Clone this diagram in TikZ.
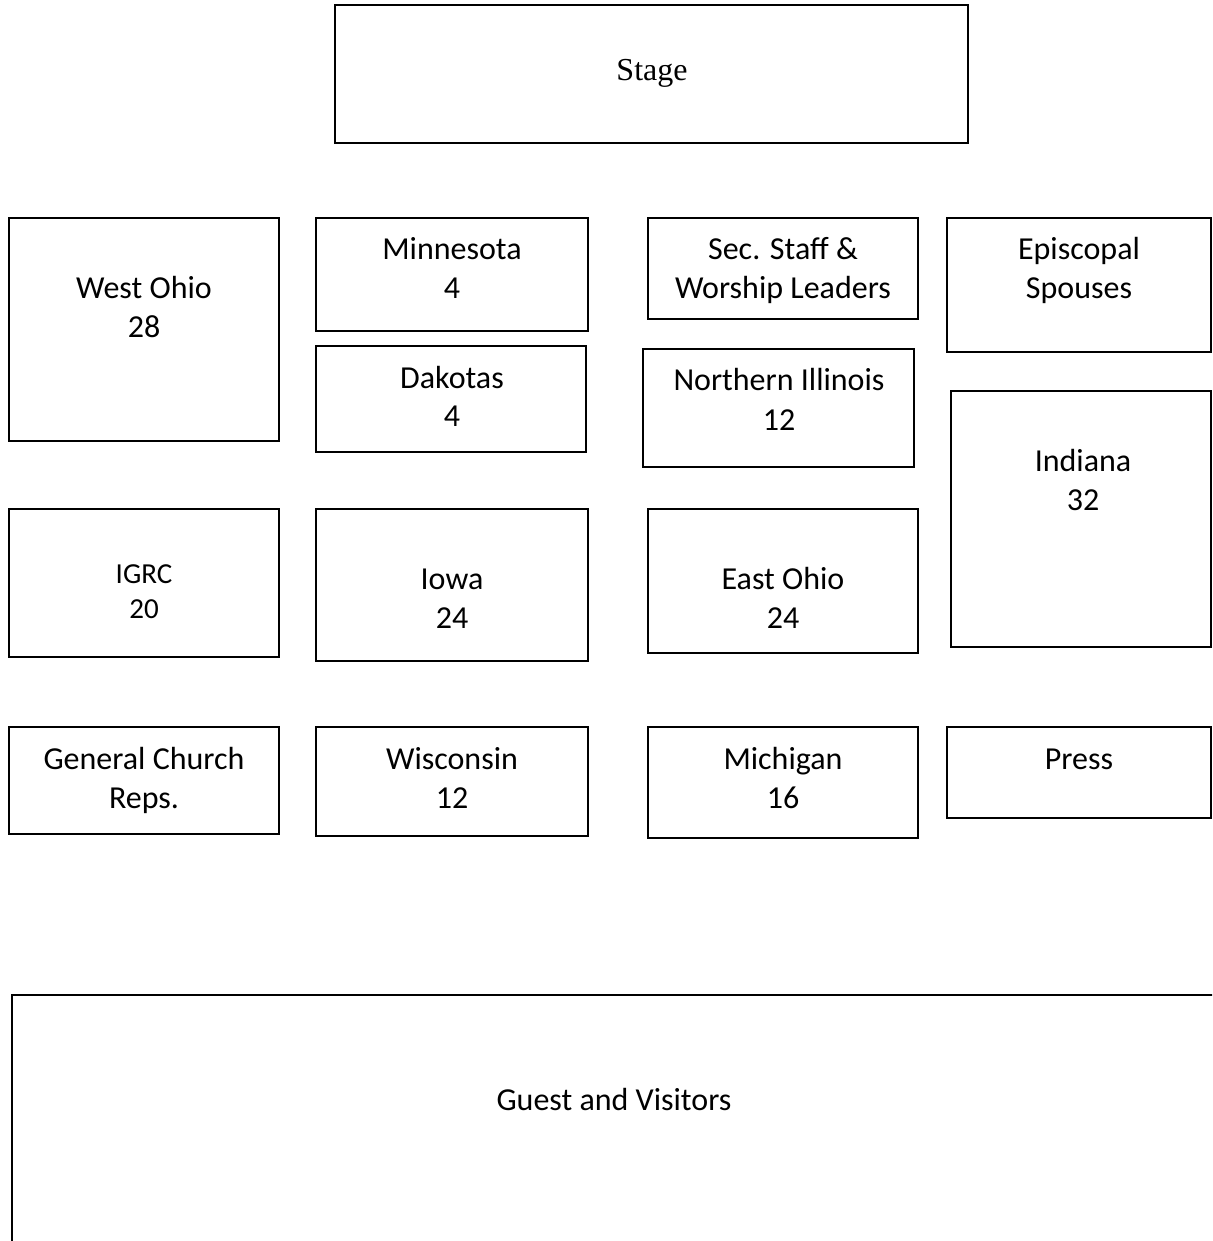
\documentclass[tikz,border=0pt]{standalone}
\usepackage{fontspec}
\setmainfont{Carlito}
\newfontfamily\stagefont{Liberation Serif}
\usetikzlibrary{fit}
\begin{document}
\begin{tikzpicture}[x=0.5pt,y=-0.5pt,
  seat/.style={draw=black, line width=0.8pt, inner sep=0pt, fill=white},
  hall/.style={draw=black, line width=1.3pt, inner sep=0pt},
  lbl/.style={font=\fontsize{16}{19.5}\selectfont, anchor=base, inner sep=0pt},
  slbl/.style={font=\fontsize{14.5}{17.5}\selectfont, anchor=base, inner sep=0pt},
  stagelbl/.style={font=\stagefont\fontsize{16}{19.5}\selectfont, anchor=base, inner sep=0pt}]
\useasboundingbox (0,0) rectangle (1212,1241);
\begin{scope}
\clip (0,0) rectangle (1212,1241);
% Stage
\node[seat, fit={(335,5) (968,143)}] (stage) {};
\node[stagelbl] (stage-t) at (652,81) {Stage};
% Row 1
\node[seat, fit={(9,218) (279,441)}] (westohio) {};
\node[lbl] (westohio-t1) at (144,298) {West Ohio};
\node[lbl] (westohio-t2) at (144,337) {28};
\node[seat, fit={(316,218) (588,331)}] (minnesota) {};
\node[lbl] (minnesota-t1) at (452,259) {Minnesota};
\node[lbl] (minnesota-t2) at (452,298) {4};
\node[seat, fit={(316,346) (586,452)}] (dakotas) {};
\node[lbl] (dakotas-t1) at (452,388) {Dakotas};
\node[lbl] (dakotas-t2) at (452,426) {4};
\node[seat, fit={(648,218) (918,319)}] (secstaff) {};
\node[lbl] (secstaff-t1) at (783,259) {Sec. Staff \&};
\node[lbl] (secstaff-t2) at (783,298) {Worship Leaders};
\node[seat, fit={(947,218) (1211,352)}] (episcopal) {};
\node[lbl] (episcopal-t1) at (1079,259) {Episcopal};
\node[lbl] (episcopal-t2) at (1079,299) {Spouses};
\node[seat, fit={(643,349) (914,467)}] (nillinois) {};
\node[lbl] (nillinois-t1) at (779,390) {Northern Illinois};
\node[lbl] (nillinois-t2) at (779,430) {12};
\node[seat, fit={(951,391) (1211,647)}] (indiana) {};
\node[lbl] (indiana-t1) at (1083,471) {Indiana};
\node[lbl] (indiana-t2) at (1083,510) {32};
% Row 2
\node[seat, fit={(9,509) (279,657)}] (igrc) {};
\node[slbl] (igrc-t1) at (144,583) {IGRC};
\node[slbl] (igrc-t2) at (144,618) {20};
\node[seat, fit={(316,509) (588,661)}] (iowa) {};
\node[lbl] (iowa-t1) at (452,589) {Iowa};
\node[lbl] (iowa-t2) at (452,628) {24};
\node[seat, fit={(648,509) (918,653)}] (eastohio) {};
\node[lbl] (eastohio-t1) at (783,589) {East Ohio};
\node[lbl] (eastohio-t2) at (783,628) {24};
% Row 3
\node[seat, fit={(9,727) (279,834)}] (gcreps) {};
\node[lbl] (gcreps-t1) at (144,769) {General Church};
\node[lbl] (gcreps-t2) at (144,808) {Reps.};
\node[seat, fit={(316,727) (588,836)}] (wisconsin) {};
\node[lbl] (wisconsin-t1) at (452,769) {Wisconsin};
\node[lbl] (wisconsin-t2) at (452,808) {12};
\node[seat, fit={(648,727) (918,838)}] (michigan) {};
\node[lbl] (michigan-t1) at (783,769) {Michigan};
\node[lbl] (michigan-t2) at (783,808) {16};
\node[seat, fit={(947,727) (1211,818)}] (press) {};
\node[lbl] (press-t) at (1079,769) {Press};
% Guests
\node[hall, fit={(12,995) (1240,1270)}] (guests) {};
\node[lbl] (guests-t) at (614,1110) {Guest and Visitors};
\end{scope}
\end{tikzpicture}
\end{document}
